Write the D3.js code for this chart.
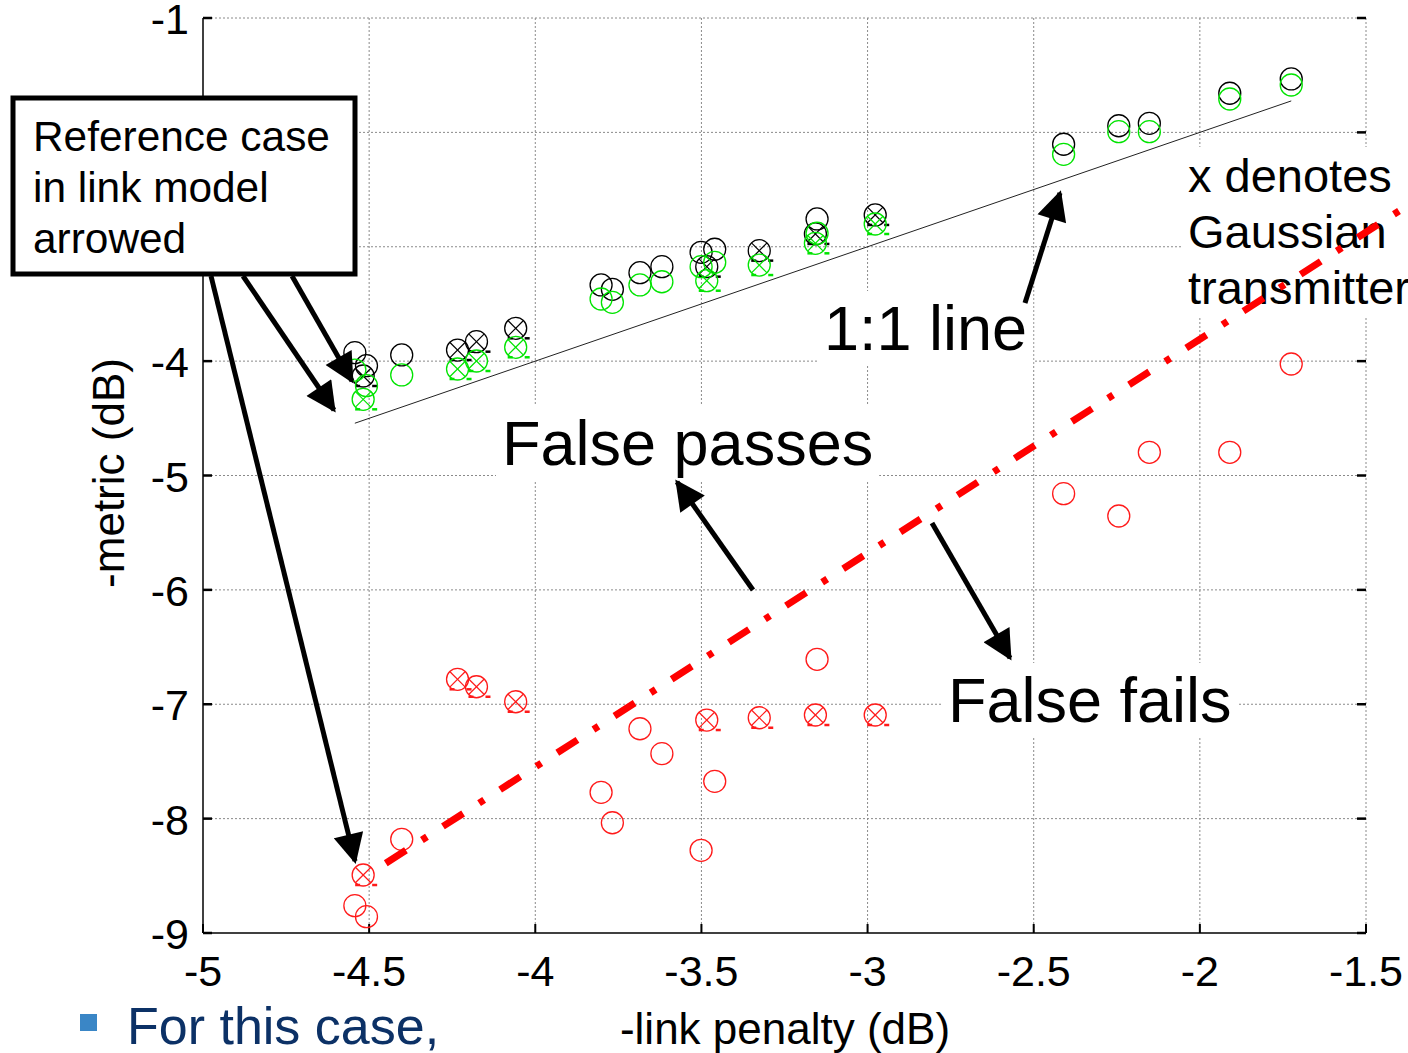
<!DOCTYPE html>
<html>
<head>
<meta charset="utf-8">
<script src="https://cdn.jsdelivr.net/npm/d3@7"></script>
<style>
  html, body { margin: 0; padding: 0; background: #fff; }
  svg { display: block; font-family: "Liberation Sans", Arial, sans-serif; }
</style>
</head>
<body>
<div id="chart"></div>
<script>
// link penalty (x) for each case, shared by the three metrics
const linkPenalty = [-4.543, -4.508, -4.518, -4.402, -4.234, -4.177, -4.059, -3.802, -3.768, -3.685, -3.619, -3.501,
                     -3.484, -3.460, -3.326, -3.152, -3.157, -2.977, -2.410, -2.244, -2.152, -1.910, -1.725];
const metricBlack = [-3.926, -4.040, -4.130, -3.946, -3.903, -3.830, -3.713, -3.334, -3.372, -3.227, -3.174, -3.049,
                     -3.174, -3.022, -3.034, -2.757, -2.888, -2.722, -2.104, -1.942, -1.921, -1.658, -1.533];
const metricGreen = [-4.078, -4.215, -4.334, -4.121, -4.069, -3.999, -3.879, -3.457, -3.486, -3.334, -3.306, -3.174,
                     -3.297, -3.136, -3.160, -2.882, -2.970, -2.801, -2.192, -1.994, -1.994, -1.708, -1.586];
const metricRed   = [-8.761, -8.857, -8.493, -8.181, -6.782, -6.847, -6.978, -7.770, -8.036, -7.214, -7.432, -8.277,
                     -7.138, -7.674, -7.118, -6.607, -7.094, -7.094, -5.159, -5.354, -4.797, -4.797, -4.025];
// true where the case uses a Gaussian transmitter (drawn with an x)
const gaussian = [false, false, true, false, true, true, true, false, false, false, false, false,
                  true, false, true, false, true, true, false, false, false, false, false];

const xTicks = [-5, -4.5, -4, -3.5, -3, -2.5, -2, -1.5];
const yTicks = [-1, -2, -3, -4, -5, -6, -7, -8, -9];
const xTickLabels = ["-5", "-4.5", "-4", "-3.5", "-3", "-2.5", "-2", "-1.5"];
const yTickLabels = ["-1", "-2", "-3", "-4", "-5", "-6", "-7", "-8", "-9"];

// threshold line separating false passes / false fails
const threshX = [-4.45, -1.37];
const threshY = [-8.39, -2.63];

const W = 1408, H = 1053;
const svg = d3.select("#chart").append("svg").attr("width", W).attr("height", H);

const x = d3.scaleLinear().domain([-5, -1.5]).range([203, 1366]);
const y = d3.scaleLinear().domain([-9, -1]).range([933, 18]);

// grid
const grid = svg.append("g").attr("stroke", "#8a8a8a").attr("stroke-dasharray", "2,2").attr("stroke-width", 1);
grid.selectAll("line.gx").data(xTicks.slice(1)).enter().append("line")
    .attr("x1", d => x(d)).attr("x2", d => x(d)).attr("y1", y(-1)).attr("y2", y(-9));
grid.selectAll("line.gy").data(yTicks.slice(0, -1)).enter().append("line")
    .attr("y1", d => y(d)).attr("y2", d => y(d)).attr("x1", x(-5)).attr("x2", x(-1.5));

// axes (inward ticks, left and bottom solid)
const axes = svg.append("g").attr("stroke", "#000");
axes.append("line").attr("x1", x(-5)).attr("x2", x(-5)).attr("y1", y(-1)).attr("y2", y(-9)).attr("stroke-width", 1.5);
axes.append("line").attr("x1", x(-5)).attr("x2", x(-1.5)).attr("y1", y(-9)).attr("y2", y(-9)).attr("stroke-width", 1.5);
axes.selectAll("line.ty").data(yTicks).enter().append("line")
    .attr("x1", x(-5)).attr("x2", x(-5) + 9).attr("y1", d => y(d)).attr("y2", d => y(d)).attr("stroke-width", 2.5);
axes.selectAll("line.ty2").data(yTicks).enter().append("line")
    .attr("x1", x(-1.5)).attr("x2", x(-1.5) - 9).attr("y1", d => y(d)).attr("y2", d => y(d)).attr("stroke-width", 2.5);
axes.selectAll("line.tx").data(xTicks).enter().append("line")
    .attr("x1", d => x(d)).attr("x2", d => x(d)).attr("y1", y(-9)).attr("y2", y(-9) - 9).attr("stroke-width", 2);

// tick labels
svg.append("g").selectAll("text").data(xTicks).enter().append("text")
    .attr("x", d => x(d)).attr("y", 986).attr("text-anchor", "middle")
    .attr("font-size", 43).text((d, i) => xTickLabels[i]);
svg.append("g").selectAll("text").data(yTicks).enter().append("text")
    .attr("x", 189).attr("y", d => y(d) + 16).attr("text-anchor", "end")
    .attr("font-size", 43).text((d, i) => yTickLabels[i]);

// axis titles
svg.append("text").attr("x", 785).attr("y", 1044).attr("text-anchor", "middle")
    .attr("font-size", 44).text("-link penalty (dB)");
svg.append("text").attr("transform", "translate(124,473) rotate(-90)").attr("text-anchor", "middle")
    .attr("font-size", 44).text("-metric (dB)");

// 1:1 line
const xr = d3.extent(linkPenalty);
svg.append("line").attr("x1", x(xr[0])).attr("y1", y(xr[0])).attr("x2", x(xr[1])).attr("y2", y(xr[1]))
    .attr("stroke", "#222").attr("stroke-width", 1);

// markers
const R = 11;
function drawSeries(vals, color) {
    const g = svg.append("g").attr("stroke", color).attr("fill", "none");
    const pts = g.selectAll("g").data(vals).enter().append("g")
        .attr("transform", (d, i) => `translate(${x(linkPenalty[i])},${y(d)})`);
    pts.append("circle").attr("r", R).attr("stroke-width", 1.3);
    const gx = pts.filter((d, i) => gaussian[i]);
    const k = R * 0.707;
    gx.append("line").attr("x1", -k).attr("y1", -k).attr("x2", k).attr("y2", k).attr("stroke-width", 1.2);
    gx.append("line").attr("x1", -k).attr("y1", k).attr("x2", k).attr("y2", -k).attr("stroke-width", 1.2);
    gx.append("line").attr("x1", -8).attr("x2", -3).attr("y1", 10).attr("y2", 10).attr("stroke-width", 2.5);
    gx.append("line").attr("x1", 9).attr("x2", 14).attr("y1", 10).attr("y2", 10).attr("stroke-width", 2.5);
}
drawSeries(metricBlack, "#000");
drawSeries(metricGreen, "#00e400");
drawSeries(metricRed, "#ff1a1a");

// annotations
const ann = svg.append("g");
function label(lines, x0, y0, size, lh) {
    const t = ann.append("text").attr("font-size", size);
    lines.forEach((s, i) => t.append("tspan").attr("x", x0).attr("y", y0 + i * lh).text(s));
    const b = t.node().getBBox();
    ann.insert("rect", () => t.node())
        .attr("x", b.x - 6).attr("y", b.y - 2).attr("width", b.width + 12).attr("height", b.height + 4)
        .attr("fill", "#fff");
    return t;
}
label(["1:1 line"], 824, 350, 63, 0);
label(["False passes"], 502, 465, 63, 0);
label(["False fails"], 948, 722, 63, 0);
label(["x denotes", "Gaussian", "transmitter"], 1188, 192, 47, 56);

// red dash-dot threshold (drawn over the labels)
svg.append("line")
    .attr("x1", x(threshX[0])).attr("y1", y(threshY[0])).attr("x2", x(threshX[1])).attr("y2", y(threshY[1]))
    .attr("stroke", "#ff0000").attr("stroke-width", 7).attr("stroke-dasharray", "24,19,6,19");

// reference box
const box = svg.append("g");
box.append("rect").attr("x", 13).attr("y", 98).attr("width", 342).attr("height", 176)
    .attr("fill", "#fff").attr("stroke", "#000").attr("stroke-width", 5);
const rt = box.append("text").attr("font-size", 42.4);
["Reference case", "in link model", "arrowed"].forEach((s, i) =>
    rt.append("tspan").attr("x", 33).attr("y", 151 + i * 51).text(s));

// arrows
const defs = svg.append("defs");
defs.append("marker").attr("id", "ah").attr("viewBox", "0 0 10 10").attr("refX", 9).attr("refY", 5)
    .attr("markerWidth", 6.5).attr("markerHeight", 6).attr("markerUnits", "strokeWidth").attr("orient", "auto")
    .append("path").attr("d", "M0,0 L10,5 L0,10 z").attr("fill", "#000");
const arrows = [
    [292, 276, 352, 381],
    [243, 276, 334, 410],
    [211, 276, 355, 861],
    [1025, 303, 1060, 193],
    [753, 590, 677, 482],
    [932, 523, 1010, 658]
];
box.selectAll("line.arr").data(arrows).enter().append("line")
    .attr("x1", d => d[0]).attr("y1", d => d[1]).attr("x2", d => d[2]).attr("y2", d => d[3])
    .attr("stroke", "#000").attr("stroke-width", 5).attr("marker-end", "url(#ah)");

// slide bullet text
svg.append("rect").attr("x", 80).attr("y", 1014).attr("width", 17).attr("height", 17).attr("fill", "#3a86c6");
svg.append("text").attr("x", 127).attr("y", 1044).attr("font-size", 52).attr("fill", "#0c3166").text("For this case,");
</script>
</body>
</html>
